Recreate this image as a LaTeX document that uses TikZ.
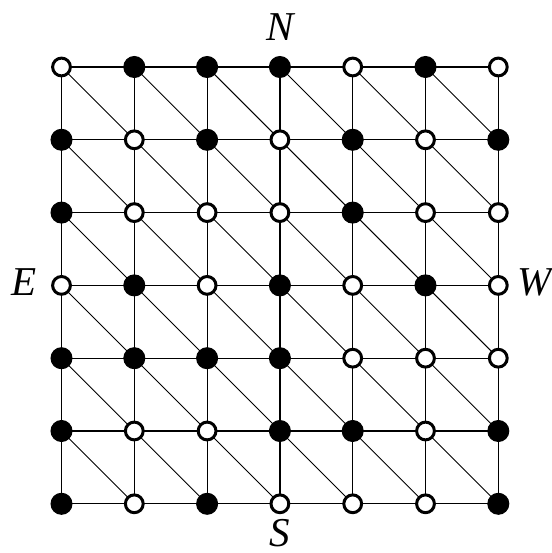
\documentclass[tikz,border=0pt]{standalone}
\usepackage{fontspec}
\setmainfont{Liberation Serif}[ItalicFont=Liberation Serif Italic]
\usetikzlibrary{backgrounds}
\tikzset{
  dotfull/.style={circle, draw=black, fill=black, line width=1pt, minimum size=21pt, inner sep=0pt},
  dotopen/.style={circle, draw=black, fill=white, line width=3pt, minimum size=17.8pt, inner sep=0pt},
  gridline/.style={draw=black, line width=1.2pt},
  diagline/.style={draw=black, line width=0.9pt},
  lab/.style={inner sep=0pt, font=\fontsize{41}{48}\selectfont\itshape}
}
\begin{document}
\begin{tikzpicture}[x=1pt,y=1pt]
\useasboundingbox (0,0) rectangle (551,553);
\foreach \row [count=\j from 0] in {{0,1,1,1,0,1,0},{1,0,1,0,1,0,1},{1,0,0,0,1,0,0},{0,1,0,1,0,1,0},{1,1,1,1,0,0,0},{1,0,0,1,1,0,1},{1,0,1,0,0,0,1}}{
  \foreach \f [count=\i from 0] in \row {
    \ifnum\f=1
      \node[dotfull] (p-\i-\j) at ({61.5+72.8*\i},{553-67-72.8*\j}) {};
    \else
      \node[dotopen] (p-\i-\j) at ({61.5+72.8*\i},{553-67-72.8*\j}) {};
    \fi
  }
}
\begin{scope}[on background layer]
\foreach \i in {0,...,6}{
  \foreach \j [evaluate=\j as \jn using int(\j+1)] in {0,...,5}{
    \draw[gridline] (p-\i-\j.center) -- (p-\i-\jn.center);
    \draw[gridline] (p-\j-\i.center) -- (p-\jn-\i.center);
  }
}
\foreach \i [evaluate=\i as \in using int(\i+1)] in {0,...,5}{
  \foreach \j [evaluate=\j as \jn using int(\j+1)] in {0,...,5}{
    \draw[diagline] (p-\i-\j.center) -- (p-\in-\jn.center);
  }
}
\end{scope}
\node[lab, anchor=base] (N) at (280,512) {N};
\node[lab, anchor=base] (S) at (280,6) {S};
\node[lab, anchor=base east] (E) at (37,257) {E};
\node[lab, anchor=base west] (W) at (517,257) {W};
\end{tikzpicture}
\end{document}
